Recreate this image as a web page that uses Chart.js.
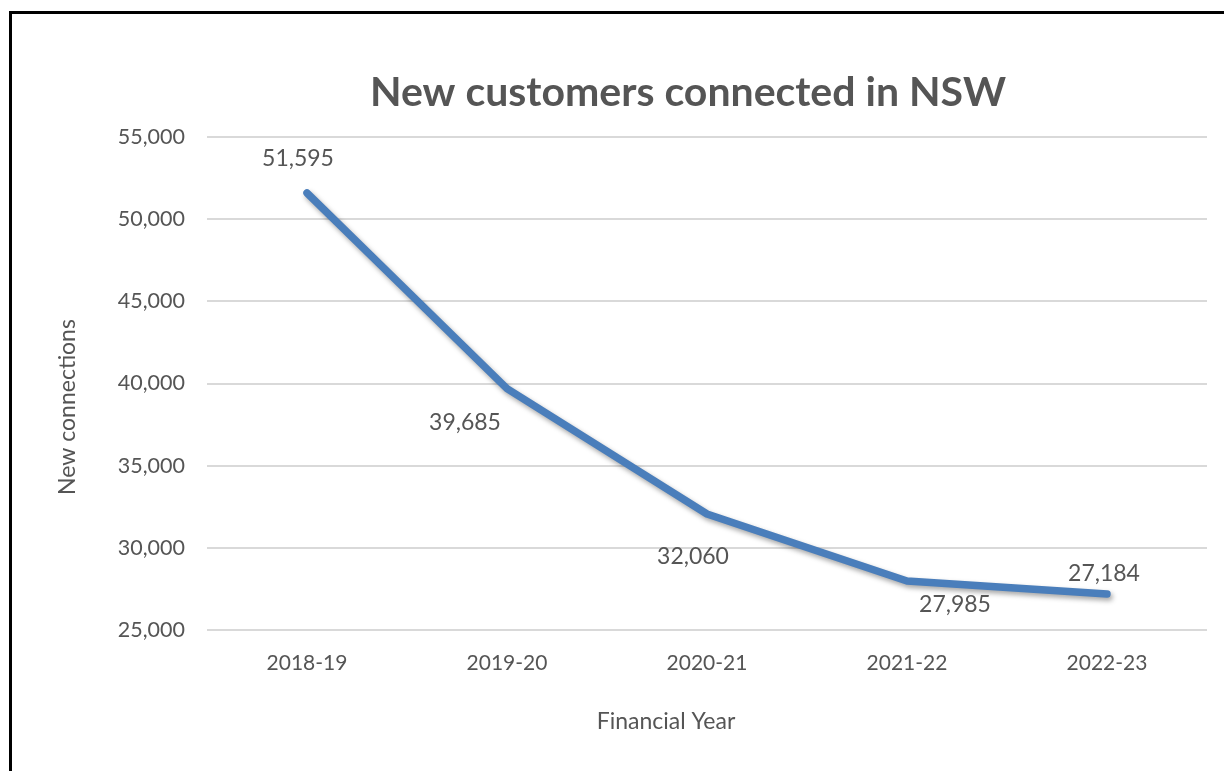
<!DOCTYPE html>
<html>
<head>
<meta charset="utf-8">
<script src="https://cdn.jsdelivr.net/npm/chart.js@4"></script>
<style>
  html, body { margin: 0; padding: 0; background: #fff; }
  body { width: 1224px; height: 771px; overflow: hidden; position: relative; }
  #frame { position: absolute; left: 9px; top: 11px; width: 1215px; height: 760px;
           border-left: 3px solid #000; border-top: 3px solid #000; box-sizing: border-box; }
  #wrap { position: absolute; left: 12px; top: 14px; width: 1212px; height: 757px; }
</style>
</head>
<body>
<div id="frame"></div>
<div id="wrap"><canvas id="c" width="1212" height="757"></canvas></div>
<script>
// ---- data ----
const categories = ["2018-19", "2019-20", "2020-21", "2021-22", "2022-23"];
const newConnections = [51595, 39685, 32060, 27985, 27184];
const yTicks = [25000, 30000, 35000, 40000, 45000, 50000, 55000];
const chartTitle = "New customers connected in NSW";
const xTitle = "Financial Year";
const yTitle = "New connections";

// label placement (offsets from each point, px) - style only
const labelOffsets = [[-9, -34], [-42, 34], [-14, 43], [48, 24], [-3, -21]];

const FONT = "Lato, 'Open Sans', sans-serif";
const TXT = "#555555";

const fmt = v => v.toLocaleString("en-US");

const labelsAndTitles = {
  id: "labelsAndTitles",
  afterDatasetsDraw(chart) {
    const ctx = chart.ctx;
    const meta = chart.getDatasetMeta(0);
    ctx.save();
    ctx.fillStyle = TXT;
    ctx.textAlign = "center";
    ctx.textBaseline = "middle";
    ctx.font = "23px " + FONT;
    meta.data.forEach((pt, i) => {
      const o = labelOffsets[i];
      ctx.fillText(fmt(newConnections[i]), pt.x + o[0], pt.y + o[1]);
    });
    // chart title
    ctx.font = "bold 41px " + FONT;
    ctx.fillText(chartTitle, 688 - 12, 93 - 14);
    // x axis title
    ctx.font = "23px " + FONT;
    ctx.fillText(xTitle, 666 - 12, 722 - 14);
    // y axis title
    ctx.translate(68 - 12, 407 - 14);
    ctx.rotate(-Math.PI / 2);
    ctx.fillText(yTitle, 0, 0);
    ctx.restore();
  }
};

const shadowPlugin = {
  id: "lineShadow",
  beforeDatasetDraw(chart) {
    const ctx = chart.ctx;
    ctx.save();
    ctx.shadowColor = "rgba(0,0,0,0.35)";
    ctx.shadowBlur = 5;
    ctx.shadowOffsetX = 2;
    ctx.shadowOffsetY = 3;
  },
  afterDatasetDraw(chart) {
    chart.ctx.restore();
  }
};

new Chart(document.getElementById("c"), {
  type: "line",
  data: {
    labels: categories,
    datasets: [{
      data: newConnections,
      borderColor: "#4a7ebb",
      borderWidth: 7.5,
      borderCapStyle: "round",
      borderJoinStyle: "round",
      pointRadius: 0,
      pointHoverRadius: 0,
      tension: 0,
      fill: false
    }]
  },
  options: {
    responsive: false,
    animation: false,
    events: [],
    layout: { padding: { top: 123, right: 17, left: 0, bottom: 0 } },
    plugins: {
      legend: { display: false },
      title: { display: false },
      tooltip: { enabled: false }
    },
    scales: {
      x: {
        offset: true,
        grid: { display: false, drawTicks: false },
        border: { display: false },
        ticks: { color: TXT, font: { family: FONT, size: 21 }, padding: 21, maxRotation: 0 },
        afterFit(scale) { scale.height = 757 - 616 - 0; }
      },
      y: {
        min: 25000,
        max: 55000,
        afterBuildTicks(scale) { scale.ticks = yTicks.map(v => ({ value: v })); },
        grid: { color: "#d9d9d9", lineWidth: 2, drawTicks: false },
        border: { display: false },
        ticks: { color: TXT, font: { family: FONT, size: 21.5 }, padding: 22, callback: v => fmt(v) },
        afterFit(scale) { scale.width = 195; }
      }
    }
  },
  plugins: [shadowPlugin, labelsAndTitles]
});
</script>
</body>
</html>
